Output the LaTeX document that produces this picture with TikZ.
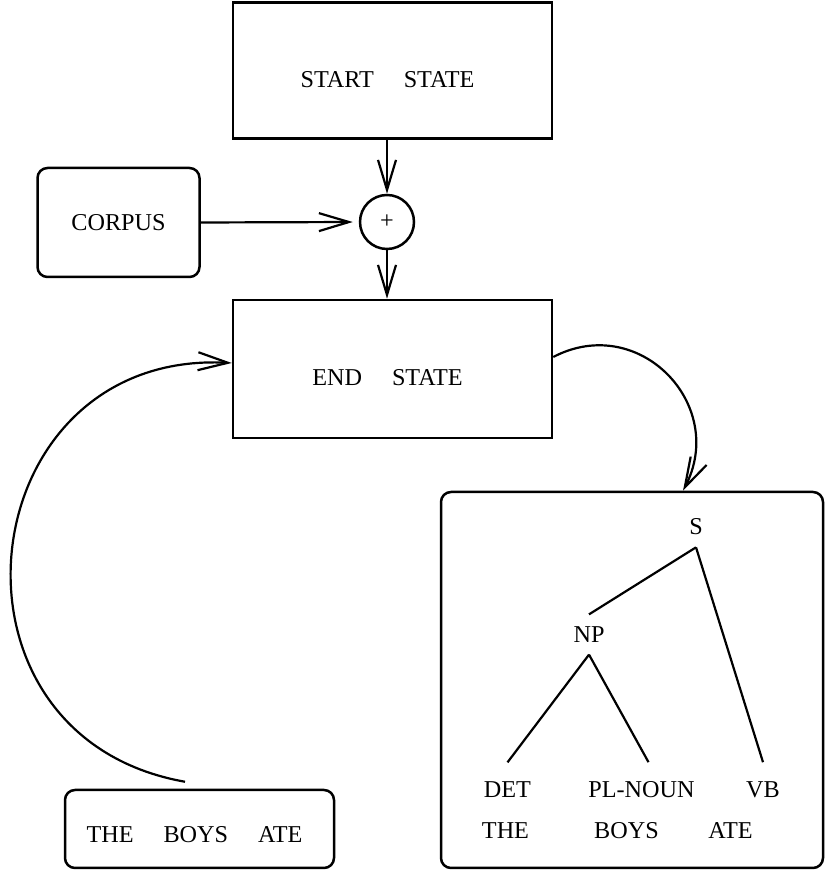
\documentclass[tikz,border=0pt]{standalone}
\usepackage{fontspec}
\setmainfont{Liberation Serif}
\usetikzlibrary{arrows.meta}
\newcommand{\wgap}{\hspace{30pt}}

\begin{document}
\begin{tikzpicture}[x=1pt,y=1pt,font=\fontsize{24.2}{28}\selectfont,
    box/.style={draw,line width=2.5pt,inner sep=0pt},
    rbox/.style={box,rounded corners=10pt},
    tnode/.style={inner xsep=0pt,inner ysep=12pt},
    leaf/.style={inner xsep=0pt,inner ysep=19pt},
    tline/.style={line width=2.2pt},
    arr/.style={line width=2.2pt,-{Straight Barb[length=30pt,width=18pt]}}]
  \useasboundingbox (0,0) rectangle (826,872);
  % boxes
  \node[box,minimum width=319,minimum height=136] (start) at (392.5,801.5) {};
  \node (starttxt) at ([shift={(-5,-9)}]start.center) {START\wgap STATE};
  \node[rbox,minimum width=162,minimum height=109] (corpus) at (118.5,649.5) {CORPUS};
  \node[draw,circle,line width=2.5pt,minimum size=54,inner sep=0pt] (plus) at (387,650) {+};
  \node[box,minimum width=319,minimum height=138] (endst) at (392.5,503) {};
  \node (endtxt) at ([shift={(-5,-9)}]endst.center) {END\wgap STATE};
  \node[rbox,minimum width=269,minimum height=78] (sent) at (199.5,43) {};
  \node (senttxt) at ([shift={(-5,-6)}]sent.center) {THE\wgap BOYS\wgap ATE};
  \node[rbox,minimum width=382,minimum height=376] (tree) at (632,192) {};
  % parse tree
  \node[tnode] (s) at (696,345) {S};
  \node[tnode] (np) at (589,237.5) {NP};
  \node[leaf] (det) at (507.5,82.5) {DET};
  \node[leaf] (plnoun) at (641.5,82.5) {PL-NOUN};
  \node[leaf] (vb) at (763,82.5) {VB};
  \node (the) at (505.5,41.5) {THE};
  \node (boys) at (626.5,41.5) {BOYS};
  \node (ate) at (730.5,41.5) {ATE};
  \draw[tline] (s.south) -- (np.north);
  \draw[tline] (s.south) -- (vb.north);
  \draw[tline] (np.south) -- (det.north);
  \draw[tline] (np.south) -- ([xshift=7]plnoun.north);
  % arrows
  \draw[arr] (plus.north |- start.south) -- (plus.north);
  \draw[arr] (plus.south) -- (plus.south |- endst.north);
  \draw[arr,shorten >=6pt] (corpus.east) -- (plus.west);
  \coordinate (loopstart) at ([shift={(-14.5,7)}]sent.north);
  \draw[arr] (loopstart) to[out=170,in=177,looseness=1.6] ([yshift=6]endst.west);
  \draw[arr] ([yshift=12]endst.east) to[out=27.6,in=62.4,looseness=1.33] ([xshift=51]tree.north);
\end{tikzpicture}
\end{document}
